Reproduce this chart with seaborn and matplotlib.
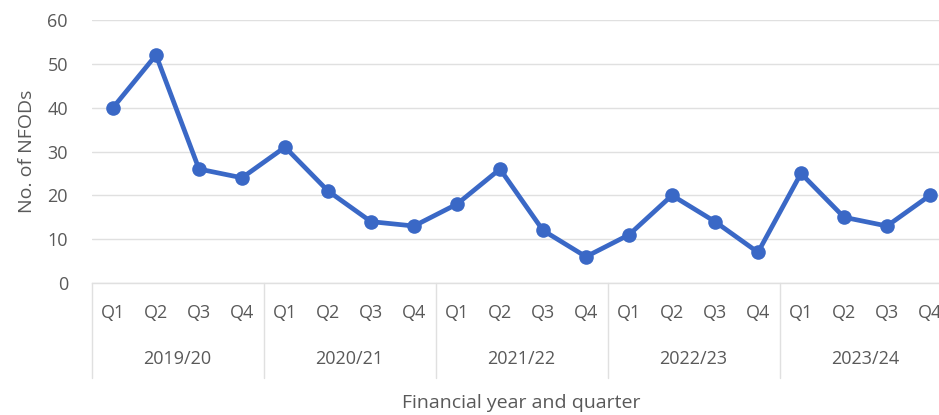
import numpy as np
import pandas as pd
import matplotlib
matplotlib.use("Agg")
import matplotlib.pyplot as plt
import matplotlib.transforms as mtransforms
import seaborn as sns

# Financial years and quarters
years = ["2019/20", "2020/21", "2021/22", "2022/23", "2023/24"]
quarters = ["Q1", "Q2", "Q3", "Q4"]
# Number of NFODs per quarter
nfods = [40, 52, 26, 24, 31, 21, 14, 13, 18, 26, 12, 6, 11, 20, 14, 7, 25, 15, 13, 20]

df = pd.DataFrame({
    "pos": np.arange(len(nfods)),
    "quarter": [q for _ in years for q in quarters],
    "year": [y for y in years for _ in quarters],
    "nfods": nfods,
})

sns.set_theme(style="white")
plt.rcParams["font.family"] = ["Open Sans", "DejaVu Sans"]
text_col = "#595959"
grid_col = "#e0e0e0"
blue = "#3a68c6"

fig = plt.figure(figsize=(9.39, 4.15), dpi=100)
W, H = 939, 415
left_px, right_px = 91.5, 951.5
top_px, bottom_px = 20, 283
ax = fig.add_axes([left_px / W, 1 - bottom_px / H,
                   (right_px - left_px) / W, (bottom_px - top_px) / H])

sns.lineplot(data=df, x="pos", y="nfods", ax=ax, color=blue, linewidth=3.4,
             marker="o", markersize=10.5, markeredgewidth=0, clip_on=False)

ax.set_xlim(-0.5, len(nfods) - 0.5)
ax.set_ylim(0, 60)
ax.set_yticks(np.arange(0, 61, 10))
ax.yaxis.grid(True, color=grid_col, linewidth=1)
ax.set_axisbelow(True)
for side in ["top", "right", "left"]:
    ax.spines[side].set_visible(False)
ax.spines["bottom"].set_color(grid_col)
ax.spines["bottom"].set_linewidth(1)

ax.tick_params(axis="y", labelsize=13, labelcolor=text_col, length=0, pad=17)
ax.set_xticks(df["pos"])
ax.set_xticklabels(df["quarter"])
ax.tick_params(axis="x", labelsize=13, labelcolor=text_col, length=0, pad=15)

# Year group labels and separators below the quarter labels
trans = mtransforms.blended_transform_factory(ax.transData, ax.transAxes)
sep_bottom = -(378 - bottom_px) / (bottom_px - top_px)
year_y = -(359 - bottom_px) / (bottom_px - top_px)
for i, yr in enumerate(years):
    start = i * 4 - 0.5
    ax.plot([start, start], [0, sep_bottom], transform=trans, color=grid_col,
            linewidth=1, clip_on=False)
    ax.text(start + 2, year_y, yr, transform=trans, ha="center", va="center",
            fontsize=13, color=text_col)
ax.plot([len(nfods) - 0.5] * 2, [0, sep_bottom], transform=trans,
        color=grid_col, linewidth=1, clip_on=False)

ax.set_xlabel("Financial year and quarter", fontsize=14, color=text_col,
              labelpad=52)
ax.set_ylabel("No. of NFODs", fontsize=14, color=text_col, labelpad=8)

fig.savefig("out.png", dpi=100)
